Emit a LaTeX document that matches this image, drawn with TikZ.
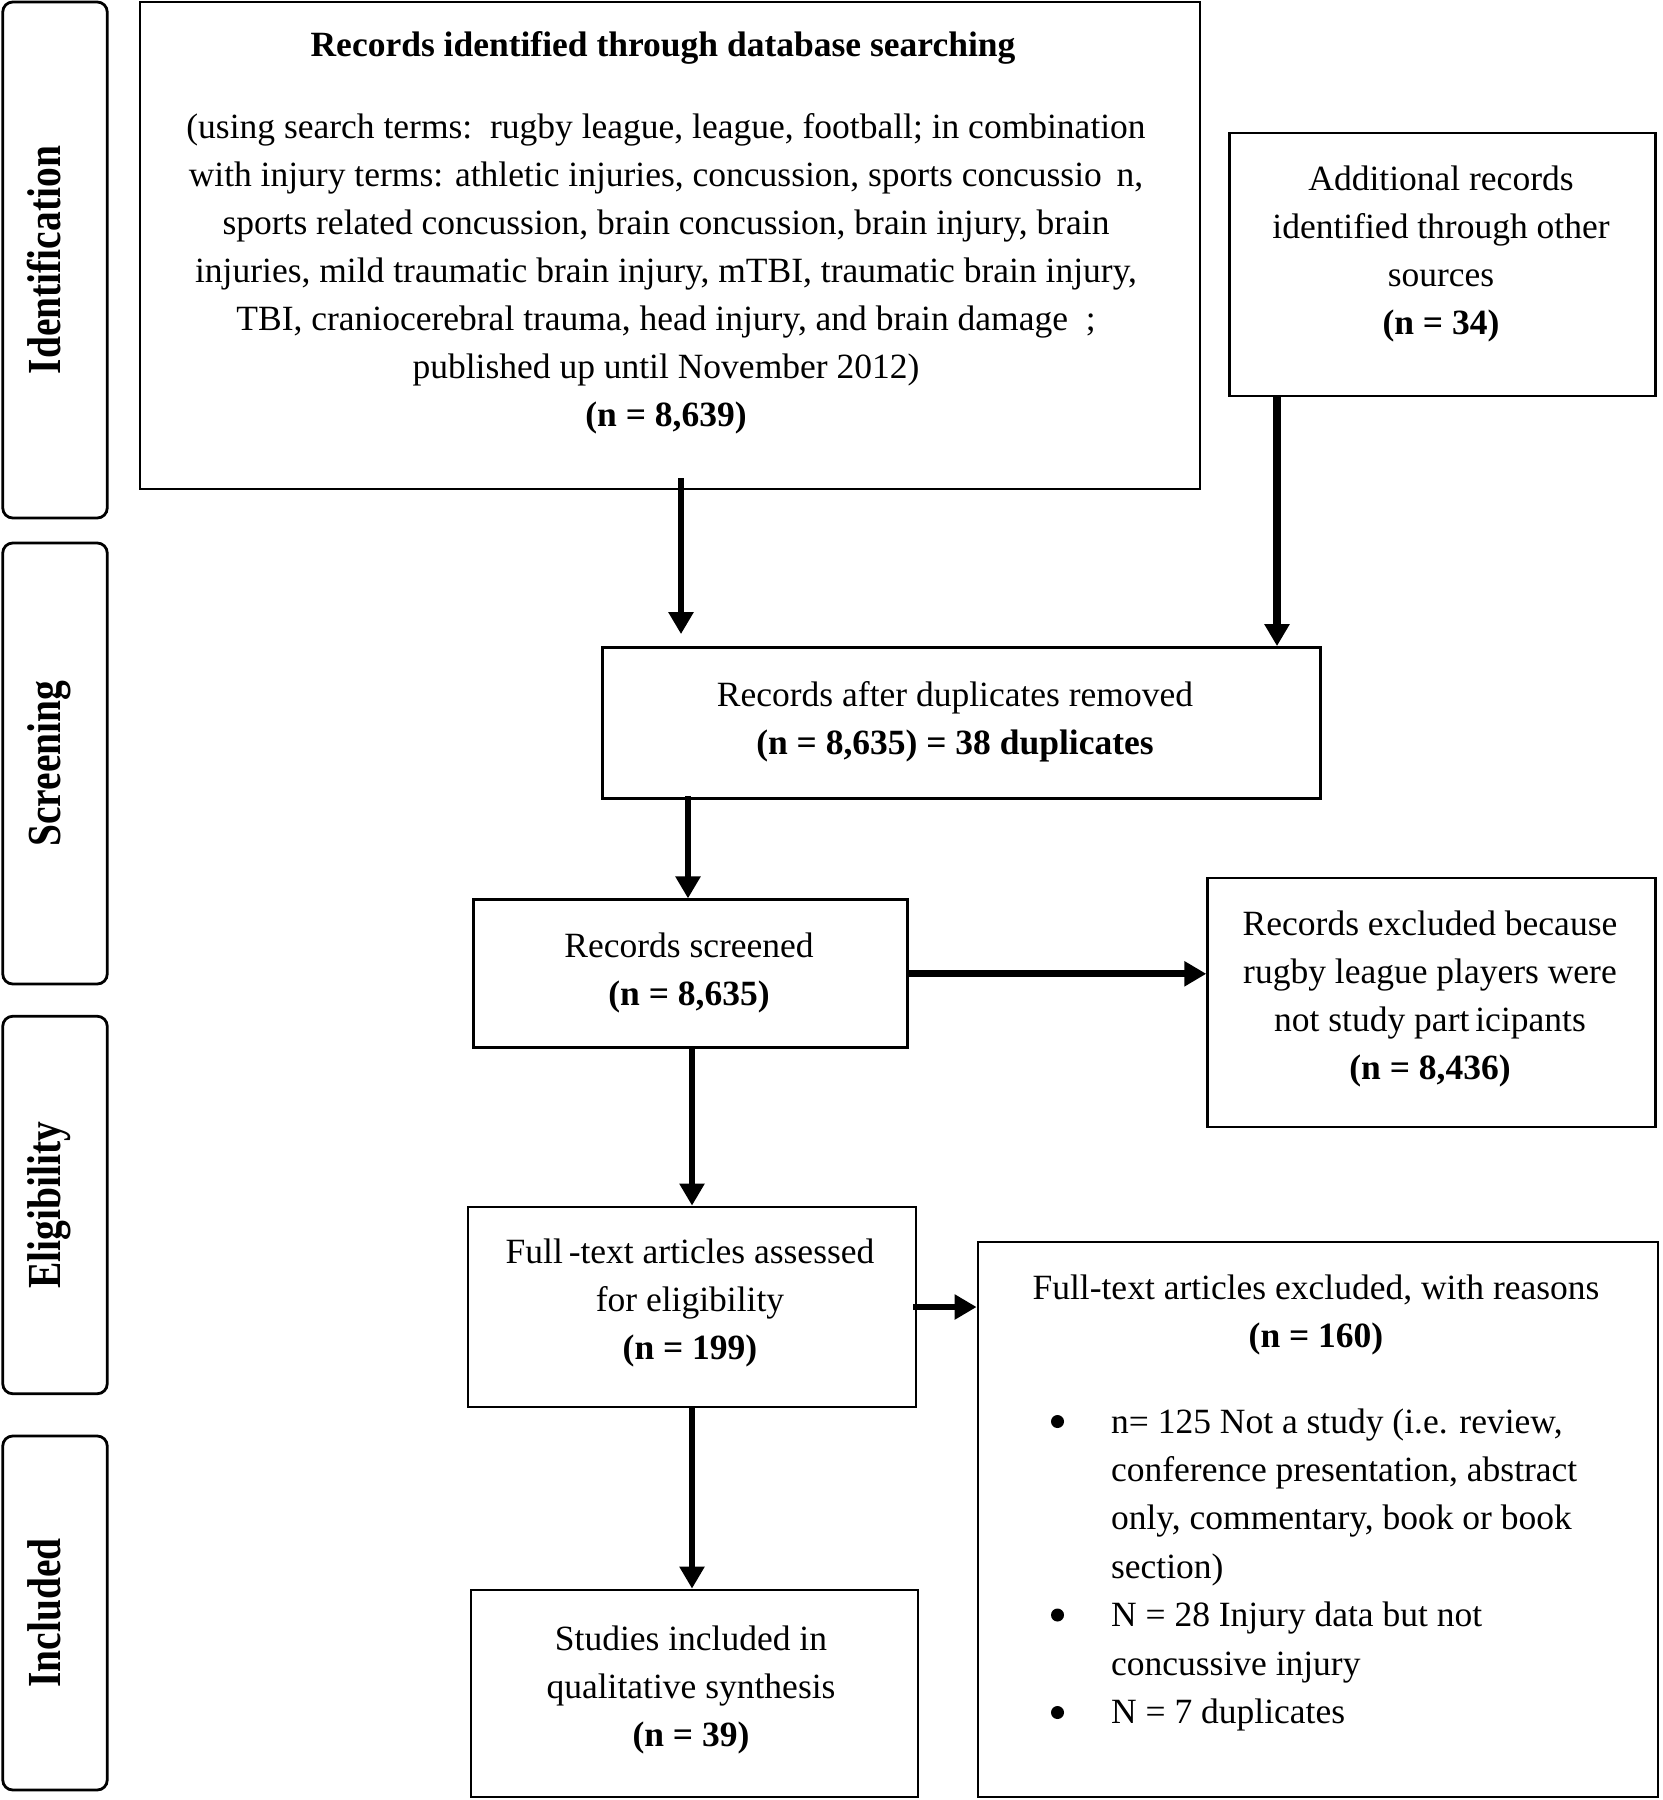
\documentclass[tikz,border=0pt]{standalone}
\usepackage{fontspec}
\setmainfont{Liberation Serif}
\usetikzlibrary{arrows.meta,calc}
\begin{document}
\begin{tikzpicture}[x=0.5pt,y=-0.5pt,
  box/.style={draw, line width=1.4pt, inner sep=0pt},
  phase/.style={draw, line width=1.4pt, rectangle, rounded corners=5pt,
     inner sep=0pt, minimum width=52.25pt},
  txt/.style={font=\fontsize{17.75pt}{24pt}\selectfont, align=center, inner sep=0pt},
  lbl/.style={rotate=90, anchor=base, inner sep=0pt,
     font=\fontsize{19.75pt}{24pt}\selectfont\bfseries},
  bul/.style={circle, fill, inner sep=0pt, minimum size=6.5pt},
  arr/.style={-{Triangle[length=11pt,width=12pt]}, line width=#1}]
\useasboundingbox (0,0) rectangle (1662,1800);

% phase boxes
\node[phase, minimum height=258pt] (pid) at (55,260) {};
\node[phase, minimum height=220.5pt] (psc) at (55,763.5) {};
\node[phase, minimum height=188.75pt] (pel) at (55,1205) {};
\node[phase, minimum height=177pt] (pin) at (55,1613) {};
\node[lbl] (lid) at (60,260) {\scalebox{1}[1.2]{Identification}};
\node[lbl] (lsc) at (60,763.5) {\scalebox{1}[1.2]{Screening}};
\node[lbl] (lel) at (60,1205) {\scalebox{1}[1.2]{Eligibility}};
\node[lbl] (lin) at (60,1613) {\scalebox{1}[1.2]{Included}};

% boxes
\node[box, minimum width=530pt, minimum height=243.5pt] (db) at (670,245.5) {};
\node[box, minimum width=213pt, minimum height=131.5pt] (add) at (1442.5,264.5) {};
\node[box, minimum width=359pt, minimum height=75.5pt] (dup) at (961.6,723) {};
\node[box, minimum width=216.75pt, minimum height=74pt] (scr) at (690.5,973.8) {};
\node[box, minimum width=224pt, minimum height=124.5pt] (exc) at (1431.7,1002.5) {};
\node[box, minimum width=224pt, minimum height=100pt] (ass) at (692,1307) {};
\node[box, minimum width=340pt, minimum height=277.5pt] (ftex) at (1318,1519.5) {};
\node[box, minimum width=223.5pt, minimum height=103.5pt] (stu) at (694.5,1693.5) {};

% texts
\node[txt, font=\fontsize{17.75pt}{24pt}\selectfont\bfseries] (dbtitle) at (663,48)
  {Records identified through database searching};
\node[txt] (dbbody) at (666,274)
  {(using search terms:\ \ rugby league, league, football; in combination\\
   with injury terms: athletic injuries, concussion, sports concussio\ \,n,\\
   sports related concussion, brain concussion, brain injury, brain\\
   injuries, mild traumatic brain injury, mTBI, traumatic brain injury,\\
   TBI, craniocerebral trauma, head injury, and brain damage\ \ ;\\
   published up until November 2012)\\
   {\bfseries (n = 8,639)}};
\node[txt] (addtxt) at (1441,254)
  {Additional records\\identified through other\\sources\\{\bfseries (n = 34)}};
\node[txt] (duptxt) at (955,722)
  {Records after duplicates removed\\{\bfseries (n = 8,635) = 38 duplicates}};
\node[txt] (scrtxt) at (689,973)
  {Records screened\\{\bfseries (n = 8,635)}};
\node[txt] (exctxt) at (1430,999)
  {Records excluded because\\rugby league players were\\not study part\,icipants\\{\bfseries (n = 8,436)}};
\node[txt] (asstxt) at (690,1303)
  {Full\,-text articles assessed\\for eligibility\\{\bfseries (n = 199)}};
\node[txt] (stutxt) at (691,1690)
  {Studies included in\\qualitative synthesis\\{\bfseries (n = 39)}};
\node[txt] (fttitle) at (1316,1315)
  {Full-text articles excluded, with reasons\\{\bfseries (n = 160)}};
\node[txt, anchor=north west, align=left, font=\fontsize{17.75pt}{24.2pt}\selectfont] (ftlist) at (1110.7,1408)
  {n= 125 Not a study (i.e. review,\\
   conference presentation, abstract\\
   only, commentary, book or book\\
   section)\\
   N = 28 Injury data but not\\
   concussive injury\\
   N = 7 duplicates};
\node[bul] (b1) at (1057.5,1421.5) {};
\node[bul] (b2) at (1057.5,1615) {};
\node[bul] (b3) at (1057.5,1712.5) {};

% connectors
\draw[arr=3pt] ([shift={(5.5pt,6pt)}]db.south) -- ([shift={(5.5pt,6pt)}]db.south |- dup.north);
\draw[arr=4.3pt] ([xshift=-82.75pt]add.south) -- ([xshift=-82.75pt]add.south |- dup.north);
\draw[arr=3.3pt] ([shift={(-1.25pt,2pt)}]scr.north |- dup.south) -- ([xshift=-1.25pt]scr.north);
\draw[arr=2.7pt] ([xshift=0.75pt]scr.south) -- ([xshift=0.75pt]scr.south |- ass.north);
\draw[arr=2.7pt] (ass.south) -- (ass.south |- stu.north);
\draw[arr=3.5pt] (scr.east) -- (scr.east -| exc.west);
\draw[arr=3.2pt] ([xshift=-2pt]ass.east) -- (ass.east -| ftex.west);
\end{tikzpicture}
\end{document}
